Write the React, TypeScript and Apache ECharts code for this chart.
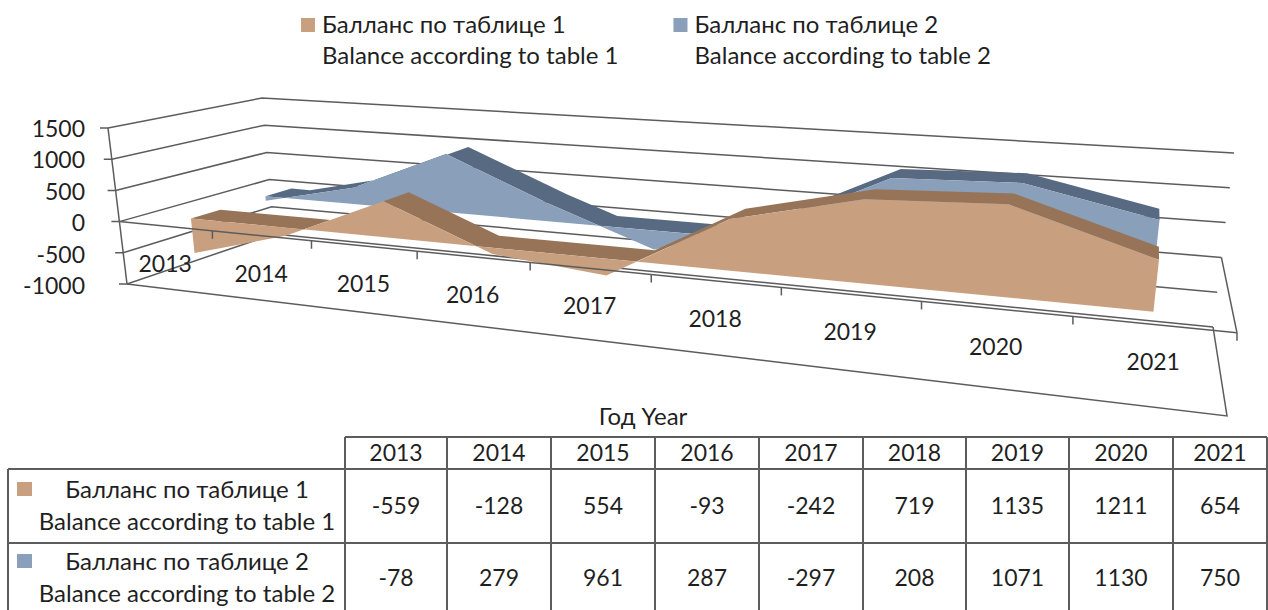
import React, { useEffect, useRef } from "react";
import * as echarts from "echarts";

const years = ["2013", "2014", "2015", "2016", "2017", "2018", "2019", "2020", "2021"];
const balance1 = [-559, -128, 554, -93, -242, 719, 1135, 1211, 654];
const balance2 = [-78, 279, 961, 287, -297, 208, 1071, 1130, 750];
const valueTicks = [-1000, -500, 0, 500, 1000, 1500];
const name1 = "Балланс по таблице 1\nBalance according to table 1";
const name2 = "Балланс по таблице 2\nBalance according to table 2";
const axisTitle = "Год Year";

const FONT = "Lato, 'Noto Sans', sans-serif";
const FS = 24;
const FS_NUM = 23;
const TEXT = "#1f1f1f";
const LINE = "#5c5c5c";
const TAN = "#c9a07f";
const TAN_DK = "#977458";
const BLUE = "#8a9fba";
const BLUE_DK = "#586a82";

// corners of the 3D box: F/B front/back, L/R, B/T bottom/top
const box = {
  FLB: [127, 284], FLT: [108, 128],
  BLB: [274, 234], BLT: [262, 98],
  FRB: [1227, 416], FRT: [1252, 208],
  BRB: [1213, 327], BRT: [1234, 153],
};
const warp = (u: number, w: number) => {
  const c = 0.2736 - 0.04 * w;
  return ((1 - c) * u) / (1 - c * u);
};
const mix = (a: number[], b: number[], t: number) => [a[0] + (b[0] - a[0]) * t, a[1] + (b[1] - a[1]) * t];
function project(u: number, v: number, w: number) {
  const uu = warp(u, w);
  const fl = mix(box.FLB, box.FLT, v);
  const fr = mix(box.FRB, box.FRT, v);
  const bl = mix(box.BLB, box.BLT, v);
  const br = mix(box.BRB, box.BRT, v);
  return mix(mix(fl, fr, uu), mix(bl, br, uu), w);
}

const normal = (api: any, params: any, i: number, val: number) => {
  const p = api.coord([i, val]);
  const c = params.coordSys;
  return [(p[0] - c.x) / c.width, 1 - (p[1] - c.y) / c.height];
};

function areaRenderer(values: number[], w0: number, w1: number, front: string, band: string) {
  return (params: any, api: any) => {
    if (params.dataIndexInside !== 0) return null;
    const pts = values.map((_, i) => normal(api, params, i, api.value(1, i)));
    const zeroV = normal(api, params, 0, 0)[1];
    const clamped: number[][] = [];
    pts.forEach((p, i) => {
      clamped.push([p[0], Math.max(p[1], zeroV)]);
      const n = pts[i + 1];
      if (n && (p[1] - zeroV) * (n[1] - zeroV) < 0) {
        const t = (zeroV - p[1]) / (n[1] - p[1]);
        clamped.push([p[0] + (n[0] - p[0]) * t, zeroV]);
      }
    });
    const bandPoly = [
      ...clamped.map((p) => project(p[0], p[1], w0)),
      ...clamped.slice().reverse().map((p) => project(p[0], p[1], w1)),
    ];
    const u0 = pts[0][0];
    const u1 = pts[pts.length - 1][0];
    const frontPoly = [
      ...pts.map((p) => project(p[0], p[1], w0)),
      project(u1, zeroV, w0),
      project(u0, zeroV, w0),
    ];
    return {
      type: "group",
      children: [
        { type: "polygon", shape: { points: bandPoly }, style: { fill: band } },
        { type: "polygon", shape: { points: frontPoly }, style: { fill: front } },
      ],
    };
  };
}

const ln = (points: number[][]) => ({
  type: "polyline",
  shape: { points },
  style: { stroke: LINE, lineWidth: 1.5, fill: "none" },
});

function backFrame(params: any, api: any) {
  const children: any[] = [];
  valueTicks.forEach((t) => {
    const v = normal(api, params, 0, t)[1];
    const fl = project(0, v, 0);
    children.push(ln([[fl[0] - 8, fl[1]], fl, project(0, v, 1), project(1, v, 1)]));
  });
  const vMin = normal(api, params, 0, valueTicks[0])[1];
  const vMax = normal(api, params, 0, valueTicks[valueTicks.length - 1])[1];
  const vZero = normal(api, params, 0, 0)[1];
  children.push(ln([project(0, vMin, 0), project(0, vMax, 0)]));
  children.push(ln([project(0, vMin, 0), project(1, vMin, 0), project(1, vMin, 1)]));
  children.push(ln([project(1, vZero, 1), project(1, vZero, 0)]));
  return { type: "group", children };
}

function frontFrame(params: any, api: any) {
  const children: any[] = [];
  const vZero = normal(api, params, 0, 0)[1];
  children.push(ln([project(0, vZero, 0), project(1, vZero, 0)]));
  for (let k = 1; k <= years.length; k++) {
    const p = project(k / years.length, vZero, 0);
    children.push(ln([p, [p[0], p[1] + 8]]));
  }
  years.forEach((y, i) => {
    const p = project((i + 0.5) / years.length, vZero, 0);
    children.push({
      type: "text",
      x: p[0],
      y: p[1] + 37,
      style: { text: y, fill: TEXT, font: `${FS_NUM}px ${FONT}`, align: "center", verticalAlign: "middle" },
    });
  });
  return { type: "group", children };
}

// table
const colX = [345, 447, 551, 655, 759, 863, 966, 1069, 1173, 1267];
const rowY = [437, 469, 543, 610];
const LEFT = 8;

function tableGraphics() {
  const out: any[] = [];
  const seg = (x1: number, y1: number, x2: number, y2: number) =>
    out.push({ type: "line", shape: { x1, y1, x2, y2 }, style: { stroke: LINE, lineWidth: 2 } });
  const txt = (text: string, x: number, y: number, size = FS) =>
    out.push({
      type: "text", x, y,
      style: { text, fill: TEXT, font: `${size}px ${FONT}`, align: "center", verticalAlign: "middle" },
    });
  seg(colX[0], rowY[0], colX[9], rowY[0]);
  seg(LEFT, rowY[1], colX[9], rowY[1]);
  seg(LEFT, rowY[2], colX[9], rowY[2]);
  seg(LEFT, rowY[1], LEFT, rowY[3]);
  colX.forEach((x) => seg(x, rowY[0], x, rowY[3]));
  years.forEach((y, i) => {
    const cx = (colX[i] + colX[i + 1]) / 2;
    txt(y, cx, 452, FS_NUM);
    txt(String(balance1[i]), cx, 505, FS_NUM);
    txt(String(balance2[i]), cx, 577, FS_NUM);
  });
  [[name1, TAN, 482], [name2, BLUE, 554]].forEach(([name, color, y]: any) => {
    out.push({ type: "rect", shape: { x: 17, y, width: 15, height: 14 }, style: { fill: color } });
    const [ru, en] = name.split("\n");
    txt(ru, 187, y + 6);
    txt(en, 187, y + 38);
  });
  txt(axisTitle, 643, 415);
  return out;
}

export default function App() {
  const ref = useRef<HTMLDivElement>(null);
  useEffect(() => {
    const chart = echarts.init(ref.current!, undefined, { renderer: "svg" });
    const single = [[0, 0]];
    const seriesData = (arr: number[]) => arr.map((v, i) => [i, v]);
    chart.setOption({
      animation: false,
      backgroundColor: "#fff",
      textStyle: { fontFamily: FONT },
      grid: { left: 97, top: 128, width: 1100, height: 157, containLabel: false },
      xAxis: { type: "category", data: years, show: false },
      yAxis: {
        type: "value", min: -1000, max: 1500, interval: 500,
        axisLine: { show: false }, axisTick: { show: false }, splitLine: { show: false },
        axisLabel: { fontSize: FS_NUM, color: TEXT, fontFamily: FONT, margin: 12, formatter: (v: number) => String(v) },
      },
      legend: {
        data: [name1, name2],
        left: 296, top: 3,
        orient: "horizontal",
        selectedMode: false,
        icon: "path://M0 0L0 0M0 10H14V24H0Z M16 62L16 62",
        itemWidth: 16, itemHeight: 62, itemGap: 55,
        textStyle: { fontSize: FS, color: TEXT, fontFamily: FONT, lineHeight: 31 },
      },
      graphic: tableGraphics(),
      series: [
        { type: "custom", silent: true, data: single, renderItem: backFrame },
        {
          type: "custom", name: name2, silent: true, data: seriesData(balance2),
          itemStyle: { color: BLUE }, encode: { x: 0, y: 1 },
          renderItem: areaRenderer(balance2, 0.69, 0.87, BLUE, BLUE_DK),
        },
        {
          type: "custom", name: name1, silent: true, data: seriesData(balance1),
          itemStyle: { color: TAN }, encode: { x: 0, y: 1 },
          renderItem: areaRenderer(balance1, 0.177, 0.38, TAN, TAN_DK),
        },
        { type: "custom", silent: true, data: single, renderItem: frontFrame },
      ],
    });
    return () => chart.dispose();
  }, []);
  return <div ref={ref} style={{ position: "fixed", left: 0, top: 0, width: 1268, height: 610 }} />;
}
